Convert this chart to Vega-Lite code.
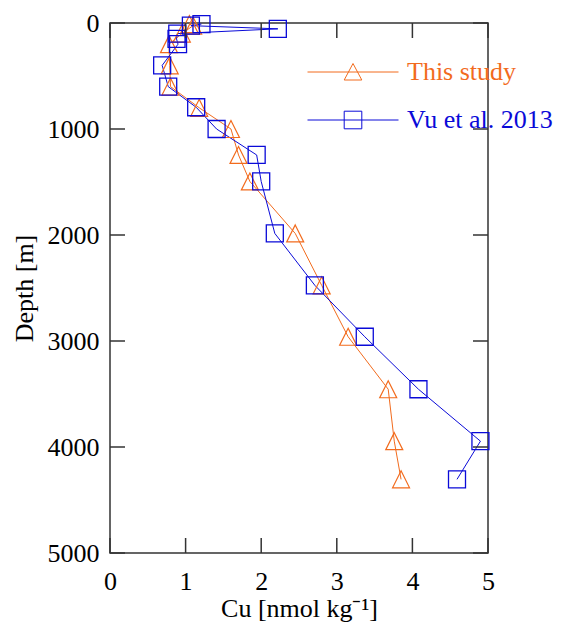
{
  "$schema": "https://vega.github.io/schema/vega-lite/v6.json",
  "width": 378,
  "height": 530,
  "autosize": "none",
  "padding": {"left": 110, "top": 23, "right": 75, "bottom": 80},
  "background": "white",
  "config": {
    "view": {"stroke": "#333333", "strokeWidth": 1.5},
    "font": "Liberation Serif",
    "axis": {
      "domain": false,
      "ticks": false,
      "grid": false,
      "labelFont": "Liberation Serif",
      "labelFontSize": 26,
      "labelColor": "black",
      "labelFlush": false,
      "labelOverlap": false,
      "titleFont": "Liberation Serif",
      "titleFontSize": 26,
      "titleFontWeight": "normal",
      "titleColor": "black"
    },
    "tick": {"thickness": 1.5, "color": "#333333", "opacity": 1, "bandSize": 15}
  },
  "datasets": {
    "profiles": [
      {"series": "This study", "cu": 1.05, "depth": 10},
      {"series": "This study", "cu": 1.1, "depth": 25},
      {"series": "This study", "cu": 0.95, "depth": 100},
      {"series": "This study", "cu": 0.78, "depth": 200},
      {"series": "This study", "cu": 0.79, "depth": 400},
      {"series": "This study", "cu": 0.8, "depth": 600},
      {"series": "This study", "cu": 1.18, "depth": 800},
      {"series": "This study", "cu": 1.6, "depth": 1000},
      {"series": "This study", "cu": 1.7, "depth": 1245},
      {"series": "This study", "cu": 1.85, "depth": 1495},
      {"series": "This study", "cu": 2.45, "depth": 1985},
      {"series": "This study", "cu": 2.8, "depth": 2475},
      {"series": "This study", "cu": 3.15, "depth": 2960},
      {"series": "This study", "cu": 3.68, "depth": 3455},
      {"series": "This study", "cu": 3.76, "depth": 3945},
      {"series": "This study", "cu": 3.85, "depth": 4305},
      {"series": "Vu et al. 2013", "cu": 1.21, "depth": 10},
      {"series": "Vu et al. 2013", "cu": 1.07, "depth": 25},
      {"series": "Vu et al. 2013", "cu": 2.22, "depth": 55},
      {"series": "Vu et al. 2013", "cu": 0.89, "depth": 100},
      {"series": "Vu et al. 2013", "cu": 0.88, "depth": 150},
      {"series": "Vu et al. 2013", "cu": 0.9, "depth": 200},
      {"series": "Vu et al. 2013", "cu": 0.69, "depth": 400},
      {"series": "Vu et al. 2013", "cu": 0.77, "depth": 600},
      {"series": "Vu et al. 2013", "cu": 1.14, "depth": 795},
      {"series": "Vu et al. 2013", "cu": 1.41, "depth": 1000},
      {"series": "Vu et al. 2013", "cu": 1.94, "depth": 1245},
      {"series": "Vu et al. 2013", "cu": 2.0, "depth": 1495},
      {"series": "Vu et al. 2013", "cu": 2.18, "depth": 1985},
      {"series": "Vu et al. 2013", "cu": 2.71, "depth": 2475},
      {"series": "Vu et al. 2013", "cu": 3.37, "depth": 2960},
      {"series": "Vu et al. 2013", "cu": 4.08, "depth": 3455},
      {"series": "Vu et al. 2013", "cu": 4.9, "depth": 3945},
      {"series": "Vu et al. 2013", "cu": 4.59, "depth": 4305}
    ],
    "cu_ticks": [{"cu": 0}, {"cu": 1}, {"cu": 2}, {"cu": 3}, {"cu": 4}, {"cu": 5}],
    "depth_ticks": [{"depth": 0}, {"depth": 1000}, {"depth": 2000}, {"depth": 3000}, {"depth": 4000}, {"depth": 5000}]
  },
  "layer": [
    {
      "data": {"name": "profiles"},
      "transform": [{"filter": "datum.series === 'This study'"}],
      "mark": {"type": "line", "strokeWidth": 1, "stroke": "#F26B1D"},
      "encoding": {
        "x": {
          "field": "cu", "type": "quantitative",
          "scale": {"domain": [0, 5], "nice": false, "zero": false},
          "axis": {"orient": "bottom", "values": [0, 1, 2, 3, 4, 5], "format": "d", "labelPadding": 15, "title": "Cu [nmol kg⁻¹]", "titlePadding": 1}
        },
        "y": {
          "field": "depth", "type": "quantitative",
          "scale": {"domain": [0, 5000], "reverse": true, "nice": false, "zero": false},
          "axis": {"orient": "left", "values": [0, 1000, 2000, 3000, 4000, 5000], "format": "d", "labelPadding": 11, "title": "Depth [m]", "titlePadding": 10}
        },
        "order": {"field": "depth", "type": "quantitative"}
      }
    },
    {
      "data": {"name": "profiles"},
      "transform": [{"filter": "datum.series === 'Vu et al. 2013'"}],
      "mark": {"type": "line", "strokeWidth": 1, "stroke": "#0A0AD8"},
      "encoding": {
        "x": {"field": "cu", "type": "quantitative"},
        "y": {"field": "depth", "type": "quantitative"},
        "order": {"field": "depth", "type": "quantitative"}
      }
    },
    {
      "data": {"name": "profiles"},
      "transform": [{"filter": "datum.series === 'This study'"}],
      "mark": {"type": "point", "shape": "M0,-1L1,1L-1,1Z", "filled": false, "stroke": "#F26B1D", "strokeWidth": 1.2, "size": 289, "opacity": 1},
      "encoding": {
        "x": {"field": "cu", "type": "quantitative"},
        "y": {"field": "depth", "type": "quantitative"}
      }
    },
    {
      "data": {"name": "profiles"},
      "transform": [{"filter": "datum.series === 'Vu et al. 2013'"}],
      "mark": {"type": "point", "shape": "square", "filled": false, "stroke": "#0A0AD8", "strokeWidth": 1.3, "size": 289, "opacity": 1},
      "encoding": {
        "x": {"field": "cu", "type": "quantitative"},
        "y": {"field": "depth", "type": "quantitative"}
      }
    },
    {
      "data": {"name": "cu_ticks"},
      "mark": {"type": "tick", "orient": "vertical", "yOffset": -7.5},
      "encoding": {
        "x": {"field": "cu", "type": "quantitative"},
        "y": {"datum": 5000, "type": "quantitative"},
        "size": {"value": 15}
      }
    },
    {
      "data": {"name": "cu_ticks"},
      "mark": {"type": "tick", "orient": "vertical", "yOffset": 7.5},
      "encoding": {
        "x": {"field": "cu", "type": "quantitative"},
        "y": {"datum": 0, "type": "quantitative"},
        "size": {"value": 15}
      }
    },
    {
      "data": {"name": "depth_ticks"},
      "mark": {"type": "tick", "orient": "horizontal", "xOffset": 7.5},
      "encoding": {
        "y": {"field": "depth", "type": "quantitative"},
        "x": {"datum": 0, "type": "quantitative"},
        "size": {"value": 15}
      }
    },
    {
      "data": {"name": "depth_ticks"},
      "mark": {"type": "tick", "orient": "horizontal", "xOffset": -7.5},
      "encoding": {
        "y": {"field": "depth", "type": "quantitative"},
        "x": {"datum": 5, "type": "quantitative"},
        "size": {"value": 15}
      }
    },
    {
      "data": {"name": "profiles"},
      "transform": [{"filter": "datum.depth < 0"}],
      "mark": {"type": "point", "filled": false, "strokeWidth": 1, "opacity": 1},
      "encoding": {
        "x": {"field": "cu", "type": "quantitative"},
        "y": {"field": "depth", "type": "quantitative"},
        "color": {
          "field": "series", "type": "nominal",
          "scale": {"domain": ["This study", "Vu et al. 2013"], "range": ["#F26B1D", "#0A0AD8"]},
          "legend": {
            "orient": "none", "legendX": 230, "legendY": 36, "title": null, "padding": 0,
            "symbolSize": 400, "symbolStrokeWidth": 1, "symbolOpacity": 1, "labelFont": "Liberation Serif", "labelFontSize": 26,
            "labelOffset": 41, "rowPadding": 22,
            "labelColor": {"expr": "datum.value === 'This study' ? '#F26B1D' : '#0A0AD8'"}
          }
        },
        "shape": {
          "field": "series", "type": "nominal",
          "scale": {
            "domain": ["This study", "Vu et al. 2013"],
            "range": ["M-4.55,0H4.55M0,-0.85L0.88,0.8L-0.88,0.8Z", "M-4.55,0H4.55M-0.88,-0.88H0.88V0.88H-0.88Z"]
          },
          "legend": {
            "orient": "none", "legendX": 230, "legendY": 36, "title": null, "padding": 0,
            "symbolSize": 400, "symbolStrokeWidth": 1, "symbolOpacity": 1, "labelFont": "Liberation Serif", "labelFontSize": 26,
            "labelOffset": 41, "rowPadding": 22,
            "labelColor": {"expr": "datum.value === 'This study' ? '#F26B1D' : '#0A0AD8'"}
          }
        }
      }
    }
  ]
}
